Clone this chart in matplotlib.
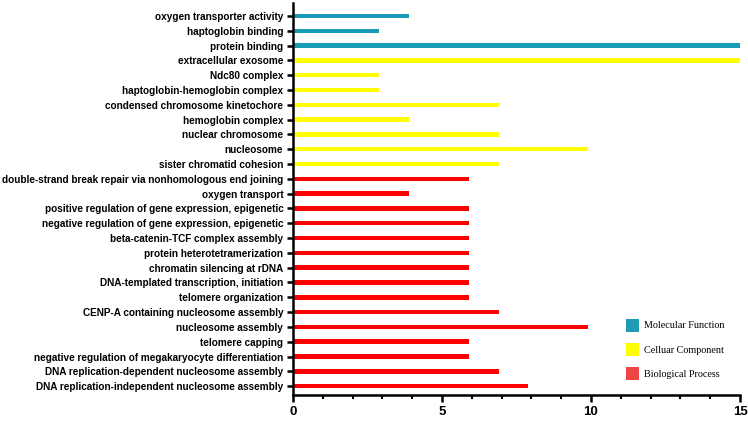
import matplotlib
matplotlib.use('Agg')
import matplotlib.pyplot as plt
from matplotlib.patches import Patch
from matplotlib.ticker import MultipleLocator

# GO terms, top to bottom
terms = [
    'oxygen transporter activity',
    'haptoglobin binding',
    'protein binding',
    'extracellular exosome',
    'Ndc80 complex',
    'haptoglobin-hemoglobin complex',
    'condensed chromosome kinetochore',
    'hemoglobin complex',
    'nuclear chromosome',
    'nucleosome',
    'sister chromatid cohesion',
    'double-strand break repair via nonhomologous end joining',
    'oxygen transport',
    'positive regulation of gene expression, epigenetic',
    'negative regulation of gene expression, epigenetic',
    'beta-catenin-TCF complex assembly',
    'protein heterotetramerization',
    'chromatin silencing at rDNA',
    'DNA-templated transcription, initiation',
    'telomere organization',
    'CENP-A containing nucleosome assembly',
    'nucleosome assembly',
    'telomere capping',
    'negative regulation of megakaryocyte differentiation',
    'DNA replication-dependent nucleosome assembly',
    'DNA replication-independent nucleosome assembly',
]
counts = [3.9, 2.9, 15, 15, 2.9, 2.9, 6.9, 3.9, 6.9, 9.9, 6.9,
          5.9, 3.9, 5.9, 5.9, 5.9, 5.9, 5.9, 5.9, 5.9, 6.9, 9.9, 5.9, 5.9, 6.9, 7.9]
groups = ['MF'] * 3 + ['CC'] * 8 + ['BP'] * 15

colors = {'MF': '#1a9bb5', 'CC': '#ffff00', 'BP': '#ff0000'}
legend_colors = {'MF': '#1f9bb4', 'CC': '#ffff00', 'BP': '#f04545'}
legend_names = {'MF': 'Molecular Function', 'CC': 'Celluar Component', 'BP': 'Biological Process'}

fig = plt.figure(figsize=(7.48, 4.23), dpi=100)
ax = fig.add_axes([293 / 748, 28 / 423, (740 - 293) / 748, 392 / 423])

y = list(range(len(terms)))
ax.barh(y, counts, height=0.3, color=[colors[g] for g in groups])

ax.set_yticks(y)
ax.set_yticklabels(terms, fontfamily='Liberation Sans', fontweight='bold', fontsize=7.2)
ax.set_ylim(len(terms) - 1 + 0.6, -0.88)
ax.set_xlim(0, 15)
ax.set_xticks([0, 5, 10, 15])
ax.xaxis.set_minor_locator(MultipleLocator(1))
for lab in ax.get_xticklabels():
    lab.set_fontfamily('Liberation Sans')
    lab.set_fontweight('bold')
    lab.set_fontsize(9.5)

for s in ['top', 'right']:
    ax.spines[s].set_visible(False)
for s in ['left', 'bottom']:
    ax.spines[s].set_linewidth(1.8)
    ax.spines[s].set_clip_on(False)
ax.tick_params(axis='y', length=4, width=1.8, pad=3)
ax.tick_params(axis='x', which='major', length=5, width=1.8, pad=3)
ax.tick_params(axis='x', which='minor', length=3, width=1.5)

handles = [Patch(facecolor=legend_colors[k], edgecolor='none', label=legend_names[k])
           for k in ['MF', 'CC', 'BP']]
ax.legend(handles=handles, loc='lower right', bbox_to_anchor=(0.985, 0.015), frameon=False,
          prop={'family': 'Liberation Serif', 'size': 7.3}, handlelength=1.3, handleheight=1.6,
          handletextpad=0.45, labelspacing=1.1)

fig.savefig('out.png', dpi=100)
